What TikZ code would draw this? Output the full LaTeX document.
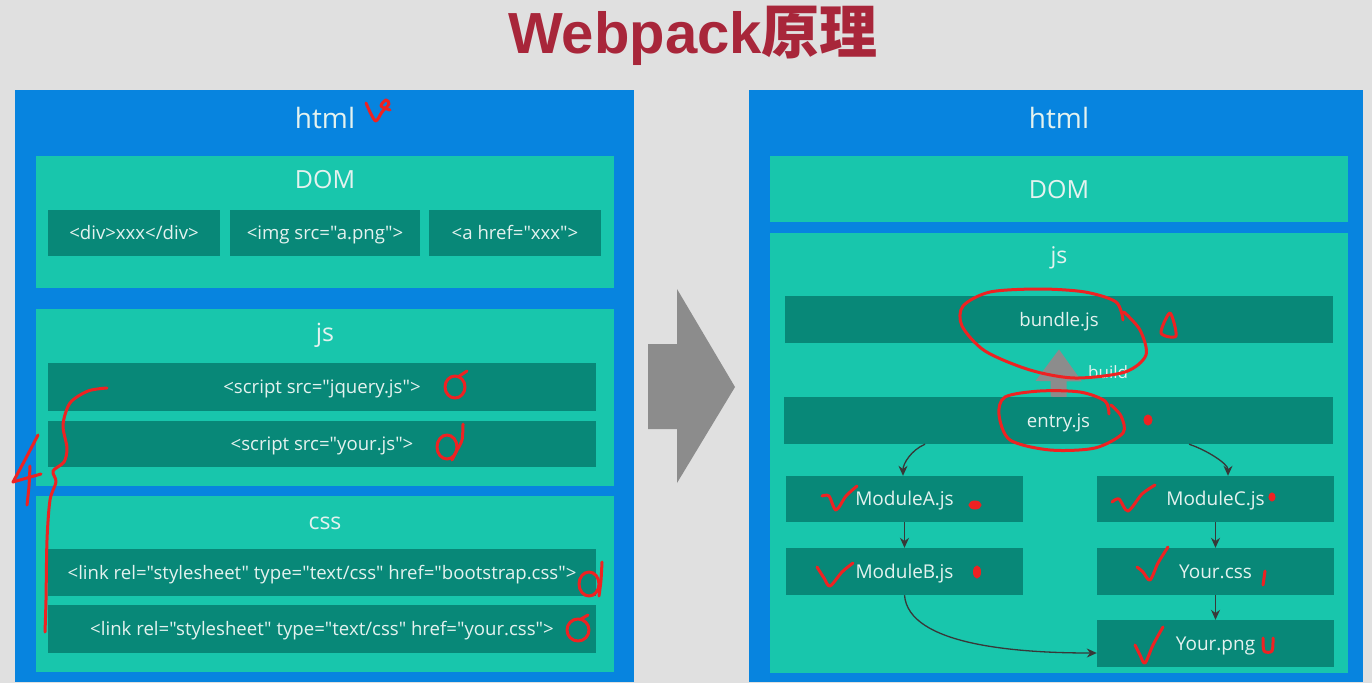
\documentclass[tikz,border=0pt]{standalone}
\usepackage{fontspec}
\setmainfont{Open Sans}
\newfontfamily\bodyfont{Open Sans}
\newfontfamily\titlefont{Liberation Sans}
\newfontfamily\cjk{Noto Sans CJK SC}
\usetikzlibrary{fit,arrows.meta}
\definecolor{bg}{HTML}{E0E0E0}
\definecolor{outerblue}{HTML}{0784DF}
\definecolor{lightteal}{HTML}{18C6AC}
\definecolor{darkteal}{HTML}{088878}
\definecolor{labeltext}{HTML}{E4F2EF}
\definecolor{titlered}{HTML}{A8263A}
\definecolor{arrowgray}{HTML}{8C8C8C}
\definecolor{conngray}{HTML}{383838}
\definecolor{pen}{HTML}{EE2222}
\begin{document}
\begin{tikzpicture}[x=1pt,y=-1pt,
  outerbox/.style={fill=outerblue, draw=none, inner sep=0pt},
  regionbox/.style={fill=lightteal, draw=none, inner sep=0pt},
  itembox/.style={fill=darkteal, draw=none, inner sep=0pt, text=labeltext, text height=13.4pt, text depth=0pt, font=\bodyfont\fontsize{18.6}{21}\selectfont},
  modbox/.style={fill=darkteal, draw=none, inner sep=0pt, text=labeltext, text height=13.6pt, text depth=0pt, font=\bodyfont\fontsize{19}{21}\selectfont},
  biglabel/.style={text=labeltext, anchor=base, inner sep=0pt, font=\bodyfont\fontsize{28}{30}\selectfont},
  midlabel/.style={text=labeltext, anchor=base, inner sep=0pt, font=\bodyfont\fontsize{25}{27}\selectfont},
  conn/.style={draw=conngray, line width=1.3pt, -{Stealth[length=10pt,width=9pt]}},
  pen/.style={draw=pen, line width=3pt, line cap=round, line join=round},
  penfill/.style={fill=pen, draw=pen, line width=1pt}
]
\fill[bg] (0,0) rectangle (1372,683);
\useasboundingbox (0,0) rectangle (1372,683);

% title
\node[anchor=base, inner sep=0pt, text=titlered, font=\fontsize{58}{62}\selectfont\bfseries] (title) at (693,53)
  {\titlefont\bfseries Webpack{\cjk\bfseries 原理}};

% ===== left =====
\node[outerbox, fit={(15,90) (634,682)}] (lhtml) {};
\node[biglabel] (lhtmllab) at (325,128) {html};
\node[regionbox, fit={(36,156) (614,288)}] (ldom) {};
\node[midlabel] (ldomlab) at (325,188) {DOM};
\node[itembox, minimum width=172pt, minimum height=46pt] (ldiv) at (134,233) {<div>xxx</div>};
\node[itembox, minimum width=190pt, minimum height=46pt] (limg) at (325,233) {<img src="a.png">};
\node[itembox, minimum width=172pt, minimum height=46pt] (la) at (515,233) {<a href="xxx">};

\node[regionbox, fit={(36,309) (614,486)}] (ljs) {};
\node[midlabel] (ljslab) at (325,341) {js};
\node[itembox, minimum width=548pt, minimum height=48pt] (ljq) at (322,387) {<script src="jquery.js">};
\node[itembox, minimum width=548pt, minimum height=46pt] (lyjs) at (322,444) {<script src="your.js">};

\node[regionbox, fit={(36,496) (614,672)}] (lcss) {};
\node[midlabel, font=\bodyfont\fontsize{23}{25}\selectfont] (lcsslab) at (325,529) {css};
\node[itembox, minimum width=548pt, minimum height=47pt] (lboot) at (322,572.5) {<link rel="stylesheet" type="text/css" href="bootstrap.css">};
\node[itembox, minimum width=548pt, minimum height=48pt] (lycss) at (322,629) {<link rel="stylesheet" type="text/css" href="your.css">};

% ===== middle arrow =====
\fill[arrowgray] (648,344) -- (677,344) -- (677,289) -- (735,387) -- (677,483) -- (677,429) -- (648,429) -- cycle;

% ===== right =====
\node[outerbox, fit={(749,90) (1363,682)}] (rhtml) {};
\node[biglabel] (rhtmllab) at (1059,128) {html};
\node[regionbox, fit={(770,156) (1348,222)}] (rdom) {};
\node[midlabel] (rdomlab) at (1059,198) {DOM};
\node[regionbox, fit={(770,233) (1348,673)}] (rjs) {};
\node[midlabel, font=\bodyfont\fontsize{23}{25}\selectfont] (rjslab) at (1059,263) {js};

\node[itembox, minimum width=548pt, minimum height=47pt] (bundle) at (1059,319.5) {bundle.js};
\node[itembox, minimum width=549pt, minimum height=47pt] (entry) at (1058.5,420.5) {entry.js};
\node[modbox, minimum width=237pt, minimum height=46pt] (modA) at (904.5,499) {ModuleA.js};
\node[modbox, minimum width=237pt, minimum height=47pt] (modB) at (904.5,571.5) {ModuleB.js};
\node[modbox, minimum width=237pt, minimum height=46pt] (modC) at (1215.5,499) {ModuleC.js};
\node[modbox, minimum width=237pt, minimum height=47pt] (ycss) at (1215.5,571.5) {Your.css};
\node[modbox, minimum width=237pt, minimum height=47pt] (ypng) at (1215.5,643.5) {Your.png};

% build arrow
\draw[draw=arrowgray, line width=16pt, -{Triangle[length=32pt,width=44pt]}] (entry.north) -- ([yshift=-6pt]bundle.south);
\node[text=labeltext, anchor=base west, inner sep=0pt, font=\bodyfont\fontsize{17}{19}\selectfont] (buildlab) at (1088,378) {build};

% connectors
\draw[conn] ([xshift=-133.5pt]entry.south) .. controls +(-14,6) and +(0,-12) .. ([xshift=-1.5pt]modA.north);
\draw[conn] ([xshift=130.5pt]entry.south) .. controls +(18,6) and +(0,-12) .. ([xshift=12.5pt]modC.north);
\draw[conn] (modA) -- (modB);
\draw[conn] (modC) -- (ycss);
\draw[conn] (ycss) -- (ypng);
\draw[conn] (modB.south) .. controls +(4,50) and +(-80,0) .. ([yshift=-9.5pt]ypng.west);

% ===== red annotations =====
% left
\draw[pen] plot[smooth] coordinates {(366,103) (371,114) (376,121) (382,112) (389,104) (386,100) (381,106) (390,110)};
\draw[pen] (455,387) ellipse [x radius=10pt, y radius=11pt];
\draw[pen] (458,377) -- (467,371);
\draw[pen] (447,447) ellipse [x radius=10pt, y radius=12pt];
\draw[pen] plot[smooth] coordinates {(463,424) (462,440) (456,452) (452,460)};
\draw[pen] (589,584) ellipse [x radius=10pt, y radius=12pt];
\draw[pen] plot[smooth] coordinates {(602,562) (601,580) (599,596)};
\draw[pen] (578,630) ellipse [x radius=11pt, y radius=11pt];
\draw[pen] (581,619) -- (588,615);
\draw[pen] plot[smooth] coordinates {(107,388) (88,391) (70,403) (63,425) (67,448) (64,462) (53,471) (56,482) (50,500) (47,540) (46,600) (45,632)};
\draw[pen] plot[smooth] coordinates {(38,435) (26,458) (13,482)};
\draw[pen] (13,482) -- (41,474);
\draw[pen] plot[smooth] coordinates {(30,466) (29,486) (27,505)};
% right
\draw[pen] plot[smooth] coordinates {(1123,320) (1116,302) (1085,292) (1040,289) (990,292) (963,306) (962,326) (985,351) (1030,370) (1075,378) (1125,372) (1146,355) (1140,330) (1124,312)};
\draw[pen] plot[smooth cycle] coordinates {(1170,313) (1161,333) (1176,336)};
\draw[pen] plot[smooth] coordinates {(1109,414) (1105,401) (1080,392) (1040,391) (1005,397) (999,415) (1010,440) (1050,450) (1095,448) (1123,433) (1121,416) (1111,405)};
\fill[penfill] (1148,420) ellipse [x radius=4pt, y radius=5pt];
\draw[pen] plot[smooth] coordinates {(822,496) (829,496) (836,510) (846,496) (857,486)};
\fill[penfill] (975,505) ellipse [x radius=6pt, y radius=4pt];
\draw[pen] plot[smooth] coordinates {(1112,502) (1119,499) (1128,511) (1142,494) (1155,485)};
\fill[penfill] (1272,497) ellipse [x radius=3pt, y radius=4pt];
\draw[pen] plot[smooth] coordinates {(817,567) (824,578) (830,586) (842,572) (853,563)};
\fill[penfill] (977,572) ellipse [x radius=3.5pt, y radius=6pt];
\draw[pen] plot[smooth] coordinates {(1137,567) (1143,572) (1150,580) (1158,563) (1168,547)};
\draw[pen] (1265,571) -- (1263,585);
\draw[pen] plot[smooth] coordinates {(1135,645) (1140,655) (1145,663) (1153,645) (1163,627)};
\draw[pen] plot[smooth] coordinates {(1263,638) (1264,651) (1272,651) (1273,638)};
\end{tikzpicture}
\end{document}
